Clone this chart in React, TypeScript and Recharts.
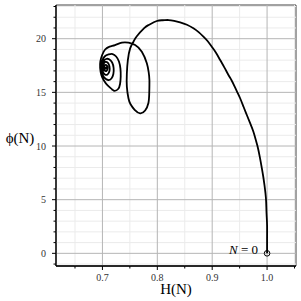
import React from 'react';
import {
  LineChart,
  Line,
  XAxis,
  YAxis,
  ReferenceLine,
  ReferenceArea,
  ReferenceDot,
} from 'recharts';

// trajectory H(N), phi(N)
const H = [
  1.0, 1.0, 1.0, 0.999, 0.9983, 0.997, 0.9952, 0.993, 0.9905, 0.9868,
  0.9825, 0.979, 0.9751, 0.9693, 0.9631, 0.9571, 0.9509, 0.9456, 0.9405, 0.9352,
  0.9296, 0.9221, 0.9145, 0.9072, 0.8993, 0.8919, 0.884, 0.8753, 0.8658, 0.854,
  0.8416, 0.8307, 0.8203, 0.8097, 0.7991, 0.7851, 0.7765, 0.7623, 0.7565, 0.7505,
  0.7463, 0.7445, 0.7445, 0.7474, 0.751, 0.7587, 0.7687, 0.7778, 0.7838, 0.7853,
  0.7856, 0.7842, 0.7809, 0.7718, 0.7596, 0.7474, 0.7354, 0.7231, 0.7131, 0.7049,
  0.6995, 0.6962, 0.6958, 0.698, 0.7027, 0.7095, 0.7177, 0.7222, 0.7286, 0.7321,
  0.7333, 0.7328, 0.7301, 0.725, 0.7186, 0.7113, 0.704, 0.6995, 0.6976, 0.6995,
  0.704, 0.7104, 0.7164, 0.7199, 0.7204, 0.7177, 0.7122, 0.7067, 0.7018, 0.6995,
  0.7004, 0.7046, 0.7095, 0.7128, 0.7128, 0.71, 0.7055, 0.7022, 0.7013, 0.7036,
  0.7077, 0.7095, 0.7082, 0.7049, 0.7035, 0.7049, 0.7067, 0.7058,
];
const PHI = [
  0, 1.33, 2.64, 3.76, 4.81, 5.62, 6.37, 7.16, 7.92, 8.97,
  10.0, 10.65, 11.33, 12.11, 12.89, 13.66, 14.45, 15.03, 15.59, 16.13,
  16.62, 17.33, 18.01, 18.67, 19.25, 19.76, 20.19, 20.61, 20.97, 21.3,
  21.53, 21.67, 21.74, 21.72, 21.65, 21.3, 21.0, 20.2, 19.72, 19.1,
  18.0, 16.77, 15.53, 14.45, 13.91, 13.37, 13.05, 13.31, 14.01, 14.91,
  16.15, 16.9, 17.71, 18.79, 19.41, 19.63, 19.63, 19.41, 19.27, 18.99,
  18.48, 17.88, 17.27, 16.62, 16.1, 15.64, 15.27, 15.13, 15.31, 15.78,
  16.48, 17.22, 17.88, 18.34, 18.57, 18.53, 18.34, 17.92, 17.36, 16.76,
  16.34, 16.15, 16.29, 16.71, 17.27, 17.78, 18.08, 18.11, 17.88, 17.46,
  16.99, 16.66, 16.68, 16.99, 17.41, 17.74, 17.83, 17.64, 17.32, 17.04,
  17.01, 17.27, 17.5, 17.55, 17.36, 17.19, 17.27, 17.38,
];

const xTicks = [0.65, 0.7, 0.75, 0.8, 0.85, 0.9, 0.95, 1.0, 1.05];
const xMajor = [0.7, 0.8, 0.9, 1.0];
const yTicks = [
  -1, 0, 1, 2, 3, 4, 5, 6, 7, 8, 9, 10, 11, 12, 13, 14, 15, 16, 17, 18, 19,
  20, 21, 22, 23,
];
const yMajor = [0, 5, 10, 15, 20];

const data = H.map((h, i) => ({ h, phi: PHI[i] }));

const X_DOMAIN: [number, number] = [0.6154, 1.0527];
const Y_DOMAIN: [number, number] = [-1.18, 23.14];
const FONT = '"Liberation Serif", "DejaVu Serif", serif';

const isMajorX = (v: number) => xMajor.some((m) => Math.abs(m - v) < 1e-6);

const XTick = (props: any) => {
  const { x, y, payload } = props;
  const major = isMajorX(payload.value);
  return (
    <g>
      <line x1={x} y1={y} x2={x} y2={y + (major ? 4 : 2.5)} stroke="#000" strokeWidth={1} />
      {major && (
        <text x={x} y={y + 15} textAnchor="middle" fontSize={10} fontFamily={FONT} fill="#333">
          {payload.value.toFixed(1)}
        </text>
      )}
    </g>
  );
};

const YTick = (props: any) => {
  const { x, y, payload } = props;
  const major = payload.value % 5 === 0;
  return (
    <g>
      <line x1={x - (major ? 4 : 2.5)} y1={y} x2={x} y2={y} stroke="#000" strokeWidth={1} />
      {major && (
        <text x={x - 10} y={y + 3.5} textAnchor="end" fontSize={10} fontFamily={FONT} fill="#333">
          {payload.value}
        </text>
      )}
    </g>
  );
};

export default function App() {
  return (
    <div style={{ position: 'absolute', left: 0, top: 0, background: '#fff' }}>
      <LineChart
        width={301}
        height={301}
        data={data}
        margin={{ top: 5, right: 5, bottom: 5, left: 0 }}
      >
        {xTicks
          .filter((v) => !isMajorX(v))
          .map((v) => (
            <ReferenceLine key={`xm${v}`} x={v} stroke="#ebebeb" strokeWidth={1} />
          ))}
        {yTicks
          .filter((v) => v % 5 !== 0)
          .map((v) => (
            <ReferenceLine key={`ym${v}`} y={v} stroke="#ebebeb" strokeWidth={1} />
          ))}
        {xMajor.map((v) => (
          <ReferenceLine key={`xM${v}`} x={v} stroke="#b5b5b5" strokeWidth={1} />
        ))}
        {yMajor.map((v) => (
          <ReferenceLine key={`yM${v}`} y={v} stroke="#b5b5b5" strokeWidth={1} />
        ))}
        <ReferenceArea
          x1={X_DOMAIN[0]}
          x2={X_DOMAIN[1]}
          y1={Y_DOMAIN[0]}
          y2={Y_DOMAIN[1]}
          fill="none"
          fillOpacity={0}
          stroke="#444"
          strokeWidth={1}
        />
        <XAxis
          type="number"
          dataKey="h"
          domain={X_DOMAIN}
          allowDataOverflow
          ticks={xTicks}
          interval={0}
          height={30}
          tickSize={0}
          tickMargin={0}
          tick={<XTick />}
          axisLine={{ stroke: '#000', strokeWidth: 1.3 }}
          label={{
            content: (p: any) => {
              const vb = p.viewBox || { x: 56, y: 266, width: 240 };
              return (
                <text x={vb.x + vb.width / 2} y={vb.y + 28} textAnchor="middle" fontSize={15} fontFamily={FONT} fill="#000">
                  H(N)
                </text>
              );
            },
          }}
        />
        <YAxis
          type="number"
          dataKey="phi"
          domain={Y_DOMAIN}
          allowDataOverflow
          ticks={yTicks}
          interval={0}
          width={56}
          tickSize={0}
          tickMargin={0}
          tick={<YTick />}
          axisLine={{ stroke: '#000', strokeWidth: 1.3 }}
          label={{
            content: () => (
              <text x={20} y={143} textAnchor="middle" fontSize={15} fontFamily={FONT} fill="#000">
                ϕ(N)
              </text>
            ),
          }}
        />
        <Line
          type="natural"
          dataKey="phi"
          stroke="#000"
          strokeWidth={1.8}
          dot={false}
          isAnimationActive={false}
        />
        <ReferenceDot
          x={1.0}
          y={0}
          r={2.8}
          fill="none"
          stroke="#000"
          strokeWidth={1}
          label={{
            content: (p: any) => {
              const vb = p.viewBox || { x: 264, y: 250, width: 6, height: 6 };
              const cx = vb.x + (vb.width || 0) / 2;
              const cy = vb.y + (vb.height || 0) / 2;
              return (
                <text x={cx - 9} y={cy + 1} textAnchor="end" fontSize={13} fontFamily={FONT} fill="#000">
                  <tspan fontStyle="italic">N</tspan>
                  <tspan> = 0</tspan>
                </text>
              );
            },
          }}
        />
      </LineChart>
    </div>
  );
}
